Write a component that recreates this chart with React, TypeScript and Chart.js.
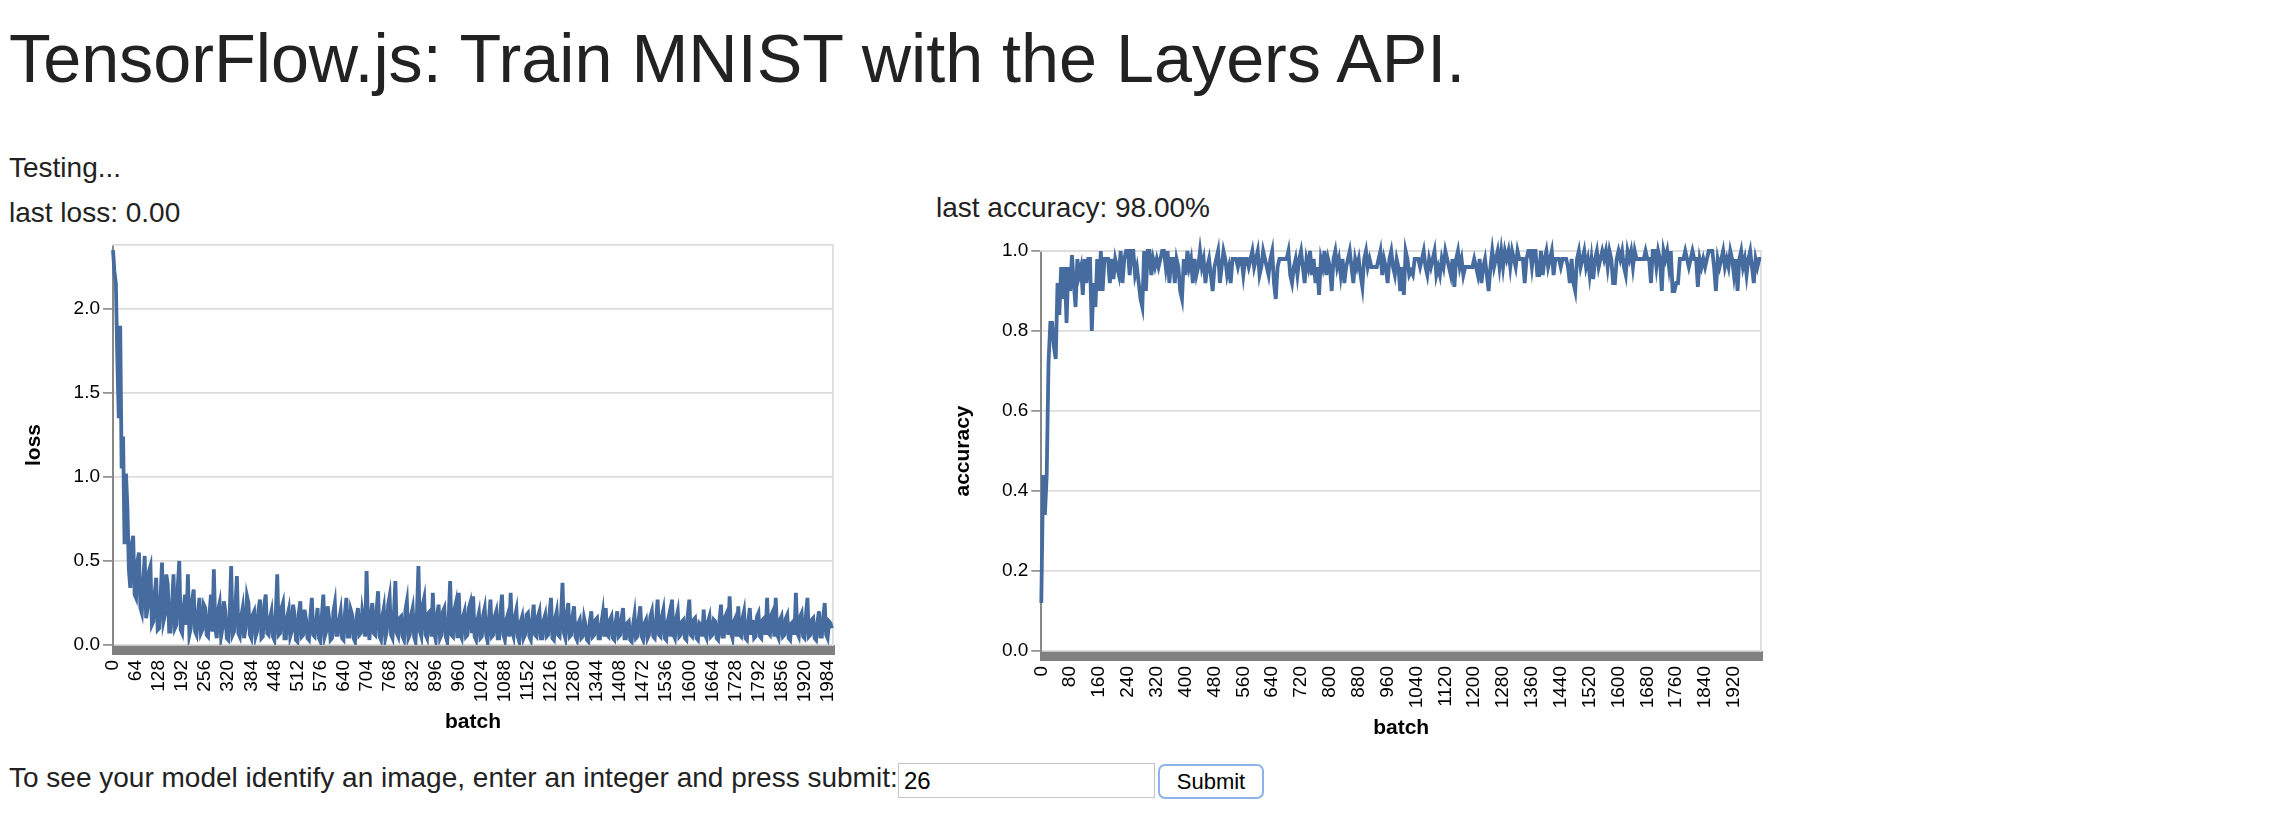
import React, { useEffect, useRef } from 'react';
import { Chart, registerables } from 'chart.js';

Chart.register(...registerables);

const FONT = '"Liberation Sans", Arial, Helvetica, sans-serif';
const LINE_COLOR = '#466c9f';

// ---------- data ----------
// loss: one reading every 4 batches (batch 0 .. 1996)
const LOSS_SAMPLE_EVERY = 4;
const lossValues = [
  2.35, 2.22, 2.15, 1.70, 1.35, 1.90, 1.05, 1.24, 0.60, 1.02, 0.82, 0.45, 0.34, 0.60, 0.65, 0.30, 0.28, 0.50, 0.55, 0.22,
  0.19, 0.38, 0.53, 0.16, 0.22, 0.44, 0.47, 0.12, 0.14, 0.31, 0.40, 0.09, 0.10, 0.28, 0.49, 0.14, 0.18, 0.42, 0.36, 0.08,
  0.08, 0.25, 0.42, 0.10, 0.12, 0.35, 0.50, 0.09, 0.07, 0.22, 0.30, 0.12, 0.42, 0.06, 0.10, 0.27, 0.33, 0.08, 0.06, 0.19,
  0.28, 0.07, 0.09, 0.24, 0.22, 0.06, 0.05, 0.19, 0.30, 0.08, 0.45, 0.10, 0.04, 0.21, 0.25, 0.05, 0.10, 0.26, 0.20, 0.04,
  0.03, 0.18, 0.47, 0.06, 0.08, 0.23, 0.41, 0.07, 0.05, 0.17, 0.22, 0.04, 0.10, 0.29, 0.25, 0.06, 0.04, 0.18, 0.20, 0.05,
  0.08, 0.21, 0.27, 0.04, 0.05, 0.24, 0.30, 0.07, 0.06, 0.16, 0.20, 0.05, 0.03, 0.19, 0.42, 0.06, 0.07, 0.22, 0.25, 0.04,
  0.04, 0.17, 0.21, 0.05, 0.08, 0.24, 0.18, 0.03, 0.02, 0.19, 0.26, 0.05, 0.06, 0.21, 0.15, 0.04, 0.03, 0.17, 0.28, 0.06,
  0.05, 0.14, 0.22, 0.04, 0.02, 0.18, 0.30, 0.05, 0.08, 0.23, 0.16, 0.03, 0.04, 0.20, 0.25, 0.06, 0.06, 0.15, 0.20, 0.04,
  0.03, 0.19, 0.28, 0.05, 0.05, 0.21, 0.18, 0.04, 0.02, 0.16, 0.22, 0.06, 0.07, 0.20, 0.14, 0.05, 0.44, 0.12, 0.03, 0.18,
  0.25, 0.07, 0.06, 0.21, 0.32, 0.05, 0.03, 0.17, 0.22, 0.04, 0.08, 0.24, 0.29, 0.06, 0.04, 0.19, 0.38, 0.07, 0.05, 0.16,
  0.17, 0.05, 0.03, 0.21, 0.26, 0.04, 0.06, 0.18, 0.22, 0.05, 0.02, 0.20, 0.47, 0.08, 0.05, 0.24, 0.28, 0.06, 0.04, 0.19,
  0.20, 0.05, 0.31, 0.07, 0.03, 0.18, 0.24, 0.04, 0.06, 0.20, 0.22, 0.05, 0.02, 0.16, 0.38, 0.06, 0.05, 0.21, 0.25, 0.04,
  0.31, 0.06, 0.04, 0.17, 0.20, 0.05, 0.06, 0.22, 0.25, 0.07, 0.29, 0.05, 0.03, 0.15, 0.19, 0.04, 0.05, 0.18, 0.22, 0.06,
  0.02, 0.16, 0.27, 0.05, 0.06, 0.17, 0.20, 0.04, 0.04, 0.21, 0.30, 0.06, 0.03, 0.15, 0.18, 0.05, 0.31, 0.08, 0.05, 0.17,
  0.21, 0.05, 0.02, 0.14, 0.17, 0.04, 0.06, 0.18, 0.19, 0.05, 0.03, 0.16, 0.24, 0.06, 0.05, 0.17, 0.20, 0.04, 0.04, 0.15,
  0.18, 0.05, 0.06, 0.19, 0.28, 0.04, 0.03, 0.16, 0.20, 0.06, 0.05, 0.18, 0.37, 0.07, 0.04, 0.19, 0.25, 0.05, 0.06, 0.17,
  0.23, 0.05, 0.03, 0.13, 0.15, 0.04, 0.05, 0.16, 0.12, 0.03, 0.02, 0.14, 0.20, 0.05, 0.06, 0.15, 0.16, 0.04, 0.04, 0.13,
  0.19, 0.05, 0.22, 0.06, 0.05, 0.15, 0.17, 0.04, 0.03, 0.14, 0.20, 0.05, 0.06, 0.16, 0.22, 0.04, 0.04, 0.13, 0.14, 0.03,
  0.02, 0.12, 0.18, 0.04, 0.05, 0.16, 0.23, 0.05, 0.03, 0.13, 0.15, 0.04, 0.06, 0.17, 0.20, 0.05, 0.04, 0.15, 0.27, 0.06,
  0.05, 0.17, 0.21, 0.04, 0.03, 0.14, 0.18, 0.05, 0.27, 0.06, 0.04, 0.16, 0.20, 0.05, 0.06, 0.14, 0.15, 0.04, 0.03, 0.18,
  0.27, 0.06, 0.05, 0.15, 0.16, 0.04, 0.03, 0.13, 0.12, 0.05, 0.21, 0.06, 0.04, 0.14, 0.17, 0.05, 0.06, 0.15, 0.14, 0.04,
  0.03, 0.15, 0.24, 0.05, 0.05, 0.17, 0.19, 0.06, 0.29, 0.07, 0.04, 0.14, 0.16, 0.05, 0.23, 0.06, 0.05, 0.16, 0.20, 0.04,
  0.03, 0.14, 0.22, 0.06, 0.15, 0.04, 0.05, 0.17, 0.19, 0.05, 0.04, 0.15, 0.16, 0.06, 0.28, 0.07, 0.06, 0.18, 0.20, 0.05,
  0.28, 0.06, 0.04, 0.15, 0.17, 0.05, 0.06, 0.16, 0.18, 0.04, 0.03, 0.13, 0.14, 0.06, 0.31, 0.07, 0.05, 0.17, 0.19, 0.05,
  0.04, 0.18, 0.28, 0.05, 0.06, 0.15, 0.16, 0.04, 0.03, 0.14, 0.20, 0.05, 0.05, 0.17, 0.25, 0.06, 0.04, 0.14, 0.13, 0.10,
];

// accuracy: one reading every 5 batches (batch 0 .. 1995)
const accValues = [
  .12, .44, .34, .44, .72, .82, .82, .76, .73, .92,
  .84, .96, .88, .96, .82, .96, .90, .99, .92, .86,
  .98, .94, .96, .89, .98, .92, .98, .98, .80, .92,
  .86, .98, .90, 1, .90, .98, .98, .98, .92, .98,
  .93, .98, .96, .94, 1, .92, .98, 1, 1, .94,
  1, 1, .94, .96, .92, .88, .86, 1, .90, 1,
  1, .94, .98, .96, .98, .96, .98, 1, 1, .96,
  1, .92, .98, .98, .92, .98, .96, .90, .88, .98,
  .94, 1, .96, .98, .92, .98, .94, .96, 1, .96,
  .98, .92, .96, .98, .94, .90, .96, .98, 1, .92,
  .96, 1, .98, .94, .96, .92, .98, .98, .98, .96,
  .98, .98, .94, .98, .98, .96, .98, 1, .96, .98,
  1, .94, .96, 1, .98, .96, .94, .98, 1, .92,
  .88, .96, .98, .98, .98, .98, .98, 1, .94, .92,
  .96, .98, .94, .98, 1, .96, .92, .98, .96, 1,
  .94, .98, .92, .96, .89, .98, .96, 1, .94, .98,
  .96, .90, .98, 1, .96, .98, .94, .98, .92, .96,
  .98, 1, .96, .92, .98, .96, .98, .94, .91, .98,
  1, .96, .98, .96, .96, .96, .96, .98, 1, .94,
  .98, .96, .92, .98, 1, .96, .94, .98, .96, .90,
  .96, .89, 1, .98, .94, .95, .94, .98, .98, .98,
  .96, .98, 1, .96, .94, .98, .96, .98, 1, .94,
  .96, .94, .98, .96, 1, .98, .96, .94, .98, .91,
  .98, 1, .96, .98, .94, .96, .96, .96, .96, .96,
  .98, .96, .94, .98, .92, .96, .98, .94, .90, .96,
  1, .96, .98, 1, .96, 1, .96, 1, .98, 1,
  .96, 1, .98, .96, 1, .98, .98, .98, .92, .98,
  1, 1, .96, 1, 1, .94, .94, 1, .94, .98,
  1, .96, .98, 1, .94, .98, .98, .98, .96, .98,
  .98, .98, .96, .92, .98, .92, .90, .98, 1, .96,
  .98, 1, .96, .98, .94, .98, .93, .98, 1, .96,
  .98, 1, .98, 1, .96, 1, .98, .92, .92, .98,
  1, .98, 1, .96, .94, 1, .98, 1, .96, 1,
  .98, .98, .98, .98, .98, 1, .98, .98, .92, 1,
  1, .96, 1, .98, .90, 1, .98, 1, .96, 1,
  .90, .90, .92, .92, .98, .98, .98, 1, .98, .96,
  .98, 1, .98, .98, .91, .98, .96, .98, .96, .98,
  1, 1, 1, .96, .90, .98, .96, .98, 1, .96,
  .98, .96, 1, .98, .94, .98, .90, .98, 1, .96,
  .98, .94, .98, 1, .96, .92, .98, .96, .98, .98,
];

// category (batch) labels of the two x axes
const lossBatchLabels = Array.from({ length: 2000 }, (_, i) => i);
const accBatchLabels = Array.from({ length: accValues.length }, (_, i) => i * 5);
const LOSS_LABEL_EVERY = 64; // show every 64th batch label
const ACC_LABEL_EVERY = 16; // show every 16th reading (80 batches)

const lossYTicks = [0, 0.5, 1.0, 1.5, 2.0];
const accYTicks = [0, 0.2, 0.4, 0.6, 0.8, 1.0];

const lossData = lossValues.map((v, i) => ({ x: i * LOSS_SAMPLE_EVERY, y: v }));

// ---------- chart ----------
type Cfg = {
  labels: number[];
  data: any[];
  yMax: number;
  yTicks: number[];
  yTitle: string;
  labelEvery: number;
  yAxisWidth: number;
  yTitlePad: number;
  width: number;
  height: number;
  left: number;
  top: number;
  clip: boolean;
};

function LineChart(cfg: Cfg) {
  const ref = useRef<HTMLCanvasElement>(null);
  useEffect(() => {
    const padTop = 15;
    const padRight = 17;
    const plotH = 400;
    const xAxisH = cfg.height - padTop - plotH;
    const chart = new Chart(ref.current as HTMLCanvasElement, {
      type: 'line',
      data: {
        labels: cfg.labels,
        datasets: [
          {
            data: cfg.data,
            borderColor: LINE_COLOR,
            backgroundColor: LINE_COLOR,
            borderWidth: 3.8,
            pointRadius: 0,
            tension: 0,
            fill: false,
            borderJoinStyle: 'miter',
            clip: cfg.clip ? undefined : false,
          } as any,
        ],
      },
      options: {
        responsive: false,
        animation: false,
        devicePixelRatio: 1,
        events: [],
        layout: { padding: { left: 0, top: padTop, right: padRight, bottom: 0 } },
        plugins: { legend: { display: false }, tooltip: { enabled: false } },
        scales: {
          x: {
            type: 'category',
            position: 'bottom',
            offset: false,
            border: { display: false },
            grid: {
              display: true,
              drawOnChartArea: false,
              drawTicks: true,
              tickLength: 10,
              tickColor: '#808080',
              tickWidth: 3,
            },
            ticks: {
              autoSkip: false,
              minRotation: 90,
              maxRotation: 90,
              padding: 5,
              color: '#000',
              font: { family: FONT, size: 19 },
              callback: (_v: any, i: number) =>
                i % cfg.labelEvery === 0 ? String(cfg.labels[i]) : '',
            },
            title: {
              display: true,
              text: 'batch',
              color: '#000',
              font: { family: FONT, size: 21, weight: 'bold' },
              padding: { top: 0, bottom: 14.8 },
            },
            afterFit: (s: any) => {
              s.height = xAxisH;
              s.paddingLeft = 0;
              s.paddingRight = 0;
            },
          },
          y: {
            type: 'linear',
            position: 'left',
            min: 0,
            max: cfg.yMax,
            afterBuildTicks: (s: any) => {
              s.ticks = cfg.yTicks.map((v) => ({ value: v }));
            },
            border: { display: true, color: '#888', width: 2 },
            grid: {
              color: '#dddddd',
              lineWidth: 1.8,
              drawTicks: true,
              tickLength: 10,
              tickColor: '#888',
              tickWidth: 1.6,
            },
            ticks: {
              padding: 3,
              color: '#000',
              font: { family: FONT, size: 19 },
              callback: (v: any) => Number(v).toFixed(1),
            },
            title: {
              display: true,
              text: cfg.yTitle,
              color: '#000',
              font: { family: FONT, size: 21, weight: 'bold' },
              padding: { top: cfg.yTitlePad, bottom: 0 },
            },
            afterFit: (s: any) => {
              s.width = cfg.yAxisWidth;
              s.paddingTop = 0;
              s.paddingBottom = 0;
            },
          },
          xTop: {
            axis: 'x',
            type: 'linear',
            position: 'top',
            display: true,
            grid: { display: false, drawTicks: false },
            ticks: { display: false },
            border: { display: true, color: '#dddddd', width: 1.8 },
            afterFit: (s: any) => {
              s.height = 0;
              s.paddingLeft = 0;
              s.paddingRight = 0;
            },
          },
          yRight: {
            axis: 'y',
            type: 'linear',
            position: 'right',
            display: true,
            grid: { display: false, drawTicks: false },
            ticks: { display: false },
            border: { display: true, color: '#dddddd', width: 1.8 },
            afterFit: (s: any) => {
              s.width = 0;
              s.paddingTop = 0;
              s.paddingBottom = 0;
            },
          },
        } as any,
      },
    });
    return () => chart.destroy();
  }, []);
  return (
    <canvas
      ref={ref}
      width={cfg.width}
      height={cfg.height}
      style={{
        position: 'absolute',
        left: cfg.left,
        top: cfg.top,
        width: cfg.width,
        height: cfg.height,
      }}
    />
  );
}

const textStyle = (left: number, top: number, size: number): React.CSSProperties => ({
  position: 'absolute',
  left,
  top,
  fontSize: size,
  lineHeight: 1,
  whiteSpace: 'nowrap',
});

export default function App() {
  return (
    <div
      style={{
        position: 'absolute',
        left: 0,
        top: 0,
        width: 2270,
        height: 814,
        background: '#fff',
        color: '#222',
        fontFamily: FONT,
        overflow: 'hidden',
      }}
    >
      <div style={textStyle(9, 24.2, 68.3)}>TensorFlow.js: Train MNIST with the Layers API.</div>
      <div style={textStyle(9, 154.3, 28)}>Testing...</div>
      <div style={textStyle(9, 199.3, 28)}>last loss: 0.00</div>
      <div style={textStyle(936, 193.6, 28)}>last accuracy: 98.00%</div>

      <LineChart
        labels={lossBatchLabels}
        data={lossData}
        yMax={2.38}
        yTicks={lossYTicks}
        yTitle="loss"
        labelEvery={LOSS_LABEL_EVERY}
        yAxisWidth={113}
        yTitlePad={21.4}
        width={850}
        height={520}
        left={0}
        top={230}
        clip={true}
      />
      <LineChart
        labels={accBatchLabels}
        data={accValues}
        yMax={1}
        yTicks={accYTicks}
        yTitle="accuracy"
        labelEvery={ACC_LABEL_EVERY}
        yAxisWidth={111.3}
        yTitlePad={20.7}
        width={848}
        height={520}
        left={930}
        top={236}
        clip={false}
      />

      <div style={textStyle(9, 764, 28)}>
        To see your model identify an image, enter an integer and press submit:
      </div>
      <input
        defaultValue="26"
        style={{
          position: 'absolute',
          left: 898,
          top: 763,
          width: 257,
          height: 35,
          boxSizing: 'border-box',
          border: '1.5px solid #c4c4c4',
          padding: '0 0 0 5px',
          margin: 0,
          fontSize: 24,
          fontFamily: FONT,
          color: '#000',
          outline: 'none',
        }}
      />
      <button
        style={{
          position: 'absolute',
          left: 1158,
          top: 764,
          width: 106,
          height: 35,
          boxSizing: 'border-box',
          border: '2.5px solid #8db3ec',
          borderRadius: 7,
          background: '#fff',
          fontSize: 22,
          fontFamily: FONT,
          color: '#000',
          padding: 0,
          margin: 0,
        }}
      >
        Submit
      </button>
    </div>
  );
}
